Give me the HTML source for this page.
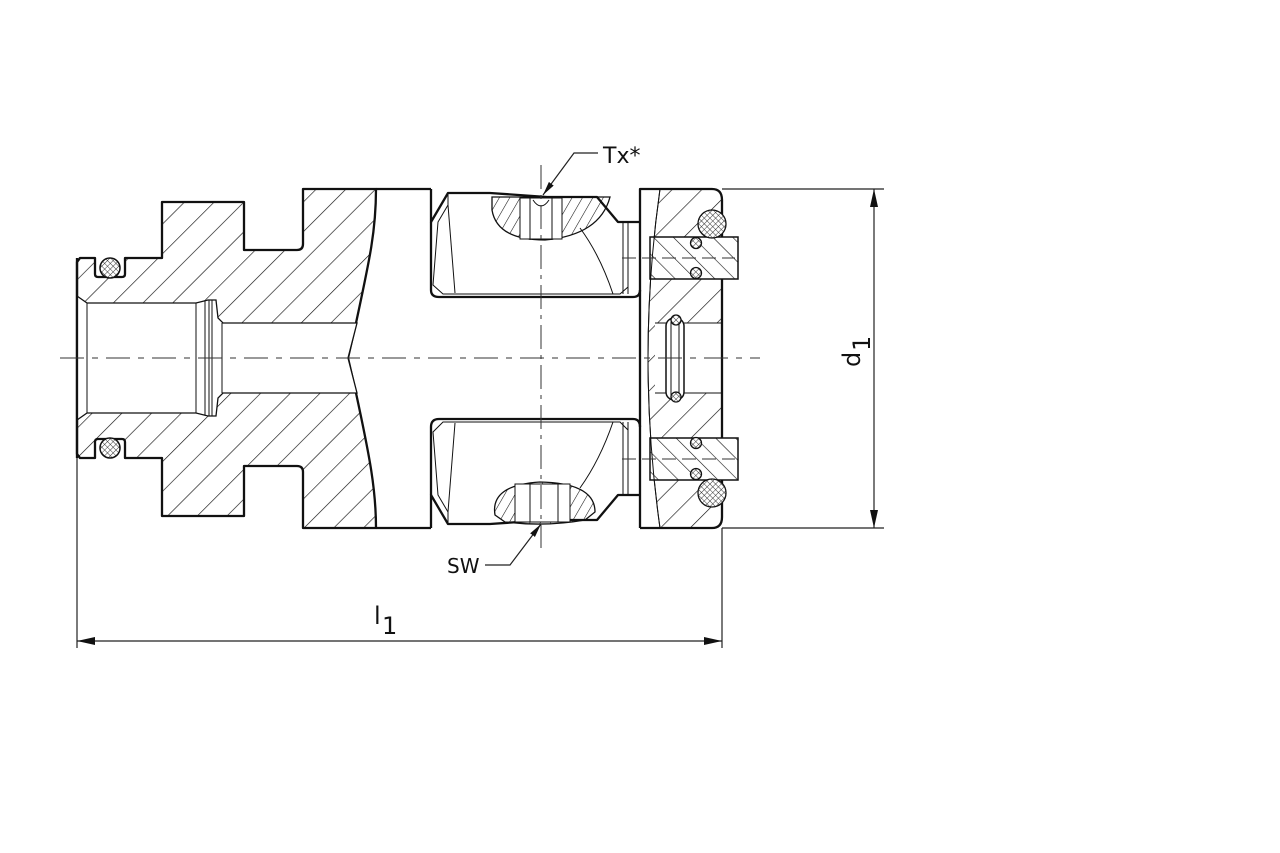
<!DOCTYPE html>
<html><head><meta charset="utf-8"><style>
html,body{margin:0;padding:0;background:#fff;}
svg{display:block;}
text{font-family:"DejaVu Sans","Liberation Sans",sans-serif;fill:#111;}
</style></head><body>
<svg width="1280" height="853" viewBox="0 0 1280 853" xmlns="http://www.w3.org/2000/svg">
<defs>
<pattern id="h" patternUnits="userSpaceOnUse" width="21" height="21" patternTransform="rotate(45)">
<line x1="0" y1="0" x2="0" y2="21" stroke="#111" stroke-width="1.3"/></pattern>
<pattern id="h2" patternUnits="userSpaceOnUse" width="14" height="14" patternTransform="rotate(-45)">
<line x1="0" y1="0" x2="0" y2="14" stroke="#111" stroke-width="1.2"/></pattern>
<pattern id="hs" patternUnits="userSpaceOnUse" width="9" height="9" patternTransform="rotate(30)">
<line x1="0" y1="0" x2="0" y2="9" stroke="#111" stroke-width="1.1"/></pattern>
<pattern id="x" patternUnits="userSpaceOnUse" width="4" height="4" patternTransform="rotate(45)">
<rect width="4" height="4" fill="#fff"/><line x1="0" y1="0" x2="0" y2="4" stroke="#222" stroke-width="0.9"/><line x1="0" y1="0" x2="4" y2="0" stroke="#222" stroke-width="0.9"/></pattern>
<marker id="ar" viewBox="0 0 18 8" refX="18" refY="4" markerWidth="18" markerHeight="8" markerUnits="userSpaceOnUse" orient="auto"><path d="M0,0 L18,4 L0,8 Z" fill="#111"/></marker>
<marker id="ar2" viewBox="0 0 14 6" refX="14" refY="3" markerWidth="14" markerHeight="6" markerUnits="userSpaceOnUse" orient="auto"><path d="M0,0 L14,3 L0,6 Z" fill="#111"/></marker>
</defs>

<g stroke="#111" stroke-width="2.3" fill="none" stroke-linejoin="round">
<path fill="url(#h)" d="M77,262 L80,258 L95,258 L95,274 Q95,277 98,277 L122,277 Q125,277 125,274 L125,258 L162,258 L162,202 L244,202 L244,250 L297,250 Q303,250 303,244 L303,189 L376,189 C376,230 370,258 356,323 L348,358 L356,393 C370,458 376,490 376,528 L303,528 L303,472 Q303,466 297,466 L244,466 L244,516 L162,516 L162,458 L125,458 L125,442 Q125,439 122,439 L98,439 Q95,439 95,442 L95,458 L80,458 L77,454 Z"/>
<line x1="376" y1="189" x2="431" y2="189"/>
<line x1="376" y1="528" x2="431" y2="528"/>
</g>
<path fill="#fff" stroke="#111" stroke-width="1.3" d="M77,296 L87,303 L196,303 L208,300 L216,300 L218,318 L223,323 L357,323 L348,358 L357,393 L223,393 L218,398 L216,416 L208,416 L196,413 L87,413 L77,420 Z"/>
<g stroke="#111" stroke-width="1" fill="none">
<line x1="87" y1="303" x2="87" y2="413"/>
<line x1="196" y1="303" x2="196" y2="413"/>
<line x1="205" y1="301" x2="205" y2="415"/><line x1="209" y1="300" x2="209" y2="416"/><line x1="212" y1="300" x2="212" y2="416"/>
<line x1="222" y1="323" x2="222" y2="393"/>
</g>
<line x1="77" y1="258" x2="77" y2="458" stroke="#111" stroke-width="2.3"/>
<circle cx="110" cy="268" r="10" fill="url(#x)" stroke="#111" stroke-width="1.5"/>
<circle cx="110" cy="448" r="10" fill="url(#x)" stroke="#111" stroke-width="1.5"/>

<g stroke="#111" stroke-width="2.3" fill="none" stroke-linejoin="round">
<path d="M431,189 L431,222 L448,193 L490,193 L547,197 L597,197 L618,222 L640,222"/>
<path d="M431,222 L431,290 Q431,297 439,297 L633,297 Q640,297 640,290"/>
<path d="M431,528 L431,495 L448,524 L490,524 L547,520 L597,520 L618,495 L640,495"/>
<path d="M431,495 L431,427 Q431,419 439,419 L633,419 Q640,419 640,427"/>
</g>
<g stroke="#111" stroke-width="1" fill="none">
<path d="M448,193 L448,205 L438,222 L433,285 L443,294 L620,294 L628,287"/>
<line x1="448" y1="205" x2="455" y2="293"/>
<path d="M580,228 Q600,255 613,294"/>
<line x1="623" y1="222" x2="623" y2="294"/><line x1="628" y1="222" x2="628" y2="294"/>
<path d="M448,524 L448,512 L438,495 L433,432 L443,422 L620,422 L628,430"/>
<line x1="448" y1="512" x2="455" y2="423"/>
<path d="M580,488 Q600,460 613,422"/>
<line x1="623" y1="495" x2="623" y2="422"/><line x1="628" y1="495" x2="628" y2="422"/>
</g>
<path d="M492,197 L610,197 Q600,235 545,240 Q497,240 492,210 Z" fill="url(#hs)" stroke="#111" stroke-width="1.3"/>
<g stroke="#111" stroke-width="1" fill="#fff"><rect x="520" y="198" width="42" height="41"/></g>
<g stroke="#111" stroke-width="1"><line x1="530" y1="198" x2="530" y2="240"/><line x1="552" y1="198" x2="552" y2="240"/><path d="M533,200 Q541,212 549,200" fill="none"/></g>
<path d="M495,515 Q490,485 540,482 Q595,483 595,512 L585,520 Q545,527 505,522 Z" fill="url(#hs)" stroke="#111" stroke-width="1.3"/>
<g stroke="#111" stroke-width="1" fill="#fff"><rect x="515" y="484" width="55" height="38"/></g>
<g stroke="#111" stroke-width="1"><line x1="530" y1="484" x2="530" y2="522"/><line x1="558" y1="484" x2="558" y2="522"/></g>

<path fill="url(#h)" stroke="#111" stroke-width="1" d="M660,189 Q636,358 660,528 L712,528 Q722,528 722,517 L722,200 Q722,189 712,189 Z"/>
<rect x="655" y="323" width="67" height="70" fill="#fff"/>
<g stroke="#111" stroke-width="1" fill="none"><line x1="655" y1="323" x2="722" y2="323"/><line x1="655" y1="393" x2="722" y2="393"/></g>
<path d="M650,237 L738,237 L738,279 L650,279 Z" fill="#fff" stroke="none"/>
<path d="M650,237 L738,237 L738,279 L650,279 Z" fill="url(#h2)" stroke="#111" stroke-width="1.5"/>
<path d="M650,438 L738,438 L738,480 L650,480 Z" fill="#fff" stroke="none"/>
<path d="M650,438 L738,438 L738,480 L650,480 Z" fill="url(#h2)" stroke="#111" stroke-width="1.5"/>
<path d="M660,189 Q636,358 660,528" fill="none" stroke="#111" stroke-width="1"/>
<g fill="none" stroke="#111" stroke-width="2.3" stroke-linejoin="round">
<path d="M640,528 L640,189 L712,189 Q722,189 722,200 L722,237"/>
<path d="M722,279 L722,438"/>
<path d="M722,480 L722,517 Q722,528 712,528 L640,528"/>
</g>
<rect x="666" y="318" width="18" height="82" rx="8" fill="#fff" stroke="#111" stroke-width="1.5"/>
<line x1="671" y1="322" x2="671" y2="396" stroke="#111"/><line x1="679" y1="322" x2="679" y2="396" stroke="#111"/>
<g fill="url(#x)" stroke="#111" stroke-width="1.3">
<circle cx="712" cy="224" r="14"/><circle cx="712" cy="493" r="14"/>
<circle cx="696" cy="243" r="5.5"/><circle cx="696" cy="273" r="5.5"/>
<circle cx="696" cy="443" r="5.5"/><circle cx="696" cy="474" r="5.5"/>
<circle cx="676" cy="320" r="5"/><circle cx="676" cy="397" r="5"/>
</g>

<g stroke="#333" stroke-width="1" fill="none">
<line x1="60" y1="358" x2="760" y2="358" stroke-dasharray="24,8,6,8"/>
<line x1="541" y1="165" x2="541" y2="548" stroke-dasharray="24,6,4,6"/>
<line x1="622" y1="258" x2="735" y2="258" stroke-dasharray="14,6"/>
<line x1="622" y1="459" x2="735" y2="459" stroke-dasharray="14,6"/>
</g>

<g stroke="#222" stroke-width="1.2" fill="none">
<line x1="722" y1="189" x2="884" y2="189"/>
<line x1="722" y1="528" x2="884" y2="528"/>
<line x1="874" y1="358" x2="874" y2="189" marker-end="url(#ar)"/>
<line x1="874" y1="358" x2="874" y2="528" marker-end="url(#ar)"/>
<line x1="77" y1="458" x2="77" y2="648"/>
<line x1="722" y1="528" x2="722" y2="648"/>
<line x1="400" y1="641" x2="77" y2="641" marker-end="url(#ar)"/>
<line x1="400" y1="641" x2="722" y2="641" marker-end="url(#ar)"/>
<polyline points="598,153 574,153 543,195" marker-end="url(#ar2)"/>
<polyline points="485,565 510,565 541,524" marker-end="url(#ar2)"/>
</g>
<text x="603" y="163" font-size="22">Tx*</text>
<text x="447" y="573" font-size="20">SW</text>
<text x="374" y="624" font-size="24">l</text><text x="382" y="634" font-size="24">1</text>
<g transform="translate(860,367) rotate(-90)"><text x="0" y="0" font-size="24">d</text><text x="16" y="10" font-size="24">1</text></g>
</svg>
</body></html>
